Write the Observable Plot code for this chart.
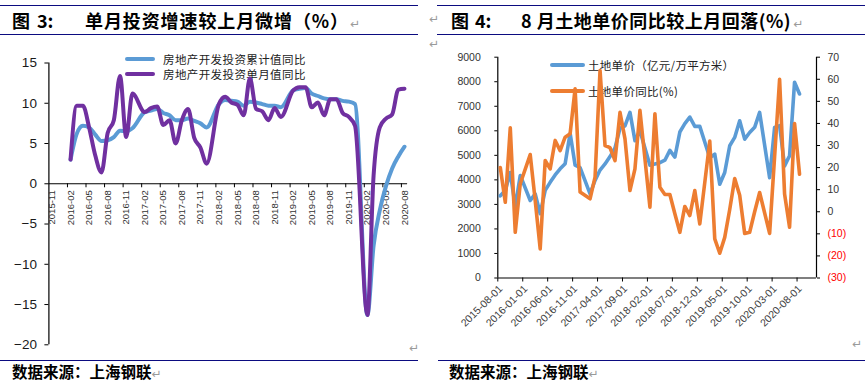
<!DOCTYPE html>
<html><head><meta charset="utf-8">
<script src="https://cdn.jsdelivr.net/npm/d3@7"></script>
<script src="https://cdn.jsdelivr.net/npm/@observablehq/plot@0.6"></script>
<style>
html,body{margin:0;padding:0;background:#fff;}
#page{position:relative;width:865px;height:389px;overflow:hidden;font-family:"Noto Sans CJK SC",sans-serif;background:#fff;}
.abs{position:absolute;white-space:pre;line-height:1;}
.rule{position:absolute;height:0;border-top:1.6px solid #0B0B80;}
.title{font-weight:700;font-size:18px;color:#000;}
.cap{font-weight:700;font-size:15.5px;color:#000;}
.mark{font-family:"DejaVu Sans";font-size:12px;color:#9a9a9a;font-weight:400;letter-spacing:0;}
.leg{font-size:11.5px;color:#222;}
.sw{position:absolute;height:4px;border-radius:2px;}
.plotbox{position:absolute;}
</style></head>
<body>
<div id="page"></div>
<script>
// ---------- Figure 3 data (monthly categories 2015-11 .. 2020-08) ----------
const leftMonths = d3.utcMonth.range(new Date(Date.UTC(2015,10,1)), new Date(Date.UTC(2020,8,1))).map(d3.utcFormat("%Y-%m"));
const cumulativeYoY = [null,null,null,
  3.0,6.2,7.2,7.0,6.1,5.3,5.4,5.8,6.6,6.5,6.9,
  null,8.9,9.1,9.3,8.8,8.5,7.9,7.9,8.1,7.8,7.5,7.0,
  null,9.9,10.4,10.3,10.2,9.7,10.2,10.1,9.9,9.7,9.7,9.5,
  null,11.6,11.8,11.9,11.2,10.9,10.6,10.5,10.5,10.3,10.2,9.9,
  null,-16.3,-7.7,-3.3,-0.3,1.9,3.4,4.6];
const monthlyYoY = [null,null,null,
  3.0,9.7,9.7,7.0,3.5,1.4,6.3,7.9,13.4,5.8,11.2,
  null,8.9,9.4,9.6,7.3,7.9,5.0,7.9,9.3,5.7,4.5,2.5,
  null,9.9,10.8,10.1,9.8,8.5,13.1,9.3,9.0,7.9,9.4,8.3,
  null,11.6,12.0,12.0,9.5,10.1,8.5,10.5,10.5,8.8,8.3,7.2,
  null,-16.3,1.0,7.0,8.1,8.6,11.7,11.8];
const leftYTicks = [-20,-15,-10,-5,0,5,10,15];
const leftSeriesNames = ["房地产开发投资累计值同比","房地产开发投资单月值同比"];

// ---------- Figure 4 data (monthly 2015-08 .. 2020-08) ----------
const rightMonths = d3.utcMonth.range(new Date(Date.UTC(2015,7,1)), new Date(Date.UTC(2020,8,1))).map(d3.utcFormat("%Y-%m"));
const landPrice = [3350,3570,4300,2900,4180,null,
  3160,3430,2620,3570,3900,4200,4450,4660,5900,4600,4500,null,
  3430,3980,4400,4650,4950,5300,6100,6200,6750,5600,6000,null,
  4600,4650,4700,4800,5200,4930,5950,6290,6560,6180,6180,null,
  4900,5050,3820,4300,5390,5730,6410,5660,5930,6140,6750,null,
  4090,6140,6210,4570,4980,7980,7500];
const landPriceYoY = [20,4.3,38,-9.3,12.7,null,
  25.9,5.1,-16.8,23.2,19.4,32.3,27.7,33.8,35.3,55.7,8.9,null,
  5.9,15.7,64,30,29,23.2,45,33,9.6,19.4,45.9,null,
  2.1,44.4,11.1,7.8,7.8,-0.9,-9.3,2.4,-1.7,9.6,-5.5,null,
  32,-12.3,-18.8,-11.6,1,15,7.5,-9.8,-9.3,0,8.7,null,
  -9.8,25,60,8,-7,40,17];
const rightLeftTicks = [0,1000,2000,3000,4000,5000,6000,7000,8000,9000];
const rightRightTicks = [-30,-20,-10,0,10,20,30,40,50,60,70];
const rightSeriesNames = ["土地单价（亿元/万平方米）","土地单价同比(%)"];

const BLUE = "#5B9BD5", PURPLE = "#7030A0", ORANGE = "#ED7D31";
const page = document.getElementById("page");
function add(cls, text, left, top, extra, tail){
  const d = document.createElement("div");
  d.className = "abs " + cls; d.textContent = text;
  d.style.left = left + "px"; d.style.top = top + "px";
  if (extra) Object.assign(d.style, extra);
  if (tail != null) {
    const s = document.createElement("span");
    s.className = "mark"; s.textContent = "↵"; s.style.marginLeft = tail + "px";
    d.appendChild(s);
  }
  page.appendChild(d); return d;
}
function rule(left, top, width){
  const d = document.createElement("div");
  d.className = "rule"; d.style.left = left+"px"; d.style.top = top+"px"; d.style.width = width+"px";
  page.appendChild(d);
}
function swatch(left, top, width, color){
  const d = document.createElement("div");
  d.className = "sw"; d.style.left = left+"px"; d.style.top = top+"px"; d.style.width = width+"px"; d.style.background = color;
  page.appendChild(d);
}

// frames / titles
rule(0,5,418); rule(0,34,418); rule(0,360,418);
rule(437,5,428); rule(437,34,428); rule(438,360,427);
add("title","图",12,11); add("title","3:",37,11);
add("title","单月投资增速较上月微增（%）",85,11,{letterSpacing:"0.9px"},1);
add("title","图",451,11); add("title","4:",475,11);
add("title","8 月土地单价同比较上月回落(%)",521,11,{letterSpacing:"0.5px"},2);
add("mark","↵",429,13); add("mark","↵",429,38);
add("cap","数据来源：上海钢联",12,364,null,0);
add("cap","数据来源：上海钢联",449,364,null,0);
add("mark","↵",409,342); add("mark","↵",852,338);

// legends (under the plots)
swatch(125,57,30,BLUE); add("leg",leftSeriesNames[0],163,53.5,{letterSpacing:"0.4px"});
swatch(125,72,30,PURPLE); add("leg",leftSeriesNames[1],163,68.5,{letterSpacing:"0.4px"});
swatch(550,63,35,BLUE); add("leg",rightSeriesNames[0],588,59.5,{letterSpacing:"0.3px"});
swatch(550,89,35,ORANGE); add("leg",rightSeriesNames[1],588,85.5,{letterSpacing:"0.3px"});

// ---------- Left chart ----------
const cumData = leftMonths.map((m,i)=>({i, v: cumulativeYoY[i]})).filter(d=>d.v!=null);
const monData = leftMonths.map((m,i)=>({i, v: monthlyYoY[i]})).filter(d=>d.v!=null);
const leftLabelIdx = d3.range(0, leftMonths.length, 3);
const leftBoundaries = d3.range(2.5, leftMonths.length-1, 3);
const minusFmt = d => d < 0 ? "\u2212" + Math.abs(d) : String(d);

const left = Plot.plot({
  width: 420, height: 310,
  marginLeft: 48.4, marginRight: 12.9, marginTop: 22.5, marginBottom: 5.7,
  style: {background: "transparent", fontFamily: "Liberation Sans", overflow: "visible"},
  x: {type: "linear", domain: [-0.5, leftMonths.length - 0.5], axis: null, label: null},
  y: {domain: [-20, 15], axis: null, label: null},
  marks: [
    Plot.axisY(leftYTicks, {anchor: "left", tickSize: 4, tickPadding: 8, fontSize: 13.5, tickFormat: minusFmt, fill: "#1a1a1a"}),
    Plot.ruleX([-0.5], {y1: -20, y2: 15, stroke: "#000", strokeWidth: 1.2}),
    Plot.ruleY([0], {x1: -0.5, x2: leftMonths.length - 0.5, stroke: "#000", strokeWidth: 1.2}),
    Plot.ruleX(leftBoundaries, {y1: 0, y2: 0, insetBottom: -4, stroke: "#000"}),
    Plot.text(leftLabelIdx, {x: d => d, y: 0, text: d => leftMonths[d], rotate: -90, textAnchor: "end", dy: 6.5, fontSize: 9.5, fill: "#333"}),
    Plot.line(cumData, {x: "i", y: "v", stroke: BLUE, strokeWidth: 4, curve: "monotone-x"}),
    Plot.line(monData, {x: "i", y: "v", stroke: PURPLE, strokeWidth: 4, curve: "monotone-x"})
  ]
});
const lb = document.createElement("div"); lb.className = "plotbox"; lb.style.left = "0px"; lb.style.top = "40px";
lb.appendChild(left); page.appendChild(lb);

// ---------- Right chart ----------
const toLeft = v => (v + 30) * 90;   // right axis (-30..70) onto left axis (0..9000)
const priceData = rightMonths.map((m,i)=>({m: i, v: landPrice[i]})).filter(d=>d.v!=null);
const yoyData = rightMonths.map((m,i)=>({m: i, v: landPriceYoY[i]})).filter(d=>d.v!=null);
const rightTickIdx = d3.range(0, rightMonths.length, 5);
const negTicks = rightRightTicks.filter(d => d < 0);

const right = Plot.plot({
  width: 435, height: 300,
  marginLeft: 67.3, marginRight: 49, marginTop: 16.7, marginBottom: 62.5,
  style: {background: "transparent", fontFamily: "Liberation Sans", overflow: "visible"},
  x: {type: "linear", domain: [0, 63.9], axis: null, label: null},
  y: {domain: [0, 9000], axis: null, label: null},
  marks: [
    Plot.axisY(rightLeftTicks, {anchor: "left", tickSize: 3, tickPadding: 14, fontSize: 10.5, tickFormat: d => String(d), fill: "#333"}),
    Plot.axisY(rightRightTicks.map(toLeft), {anchor: "right", tickSize: 3, tickPadding: 8, fontSize: 10.5, fill: "#333",
      tickFormat: (d) => { const v = Math.round(d / 90 - 30); return v < 0 ? "" : String(v); }}),
    Plot.text(negTicks, {y: d => toLeft(d), text: d => "(" + Math.abs(d) + ")", frameAnchor: "right", textAnchor: "start", dx: 11, fontSize: 10.5, fill: "#FF0000"}),
    Plot.ruleX([0], {stroke: "#000", strokeWidth: 1.2}),
    Plot.ruleX([63.9], {stroke: "#000", strokeWidth: 1.2}),
    Plot.ruleY([0], {stroke: "#000", strokeWidth: 1.2}),
    Plot.ruleX(rightTickIdx, {y1: 0, y2: 0, insetBottom: -4, stroke: "#000"}),
    Plot.text(rightTickIdx, {x: d => d, y: 0, text: d => rightMonths[d] + "-01", rotate: -45, textAnchor: "end", dx: 3, dy: 9, fontSize: 10.5, fill: "#404040"}),
    Plot.line(priceData, {x: d => d.m + 0.5, y: "v", stroke: BLUE, strokeWidth: 3.6}),
    Plot.line(yoyData, {x: d => d.m + 0.5, y: d => toLeft(d.v), stroke: ORANGE, strokeWidth: 3.6})
  ]
});
const rb = document.createElement("div"); rb.className = "plotbox"; rb.style.left = "430px"; rb.style.top = "40px";
rb.appendChild(right); page.appendChild(rb);
</script>
</body></html>
